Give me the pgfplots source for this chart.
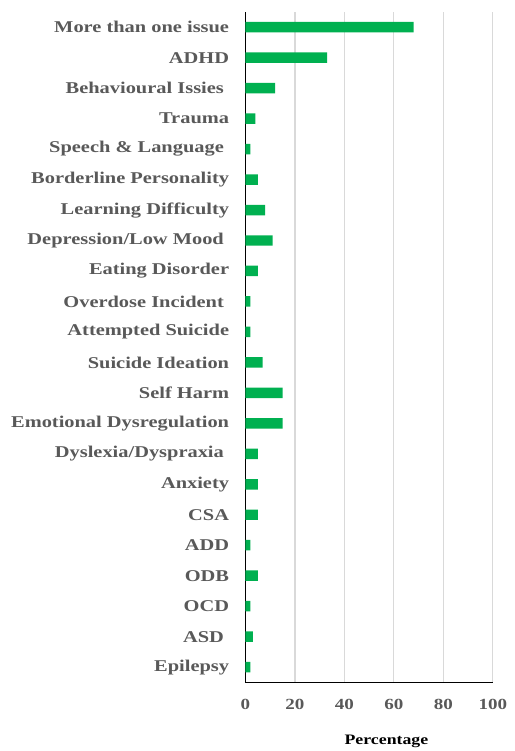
\documentclass[border=0pt]{standalone}
\usepackage{pgfplots}
\pgfplotsset{compat=1.18}
\usepackage{fontspec}
\setmainfont{Liberation Serif}
\definecolor{bargreen}{HTML}{00B050}
\definecolor{labgray}{HTML}{595959}
\definecolor{gridgray}{HTML}{D9D9D9}
\newcommand{\tsp}{\kern4.2pt}
\begin{document}
\begin{tikzpicture}
\begin{axis}[
 at={(0,0)}, anchor=south west,
 width=248pt, height=672pt, scale only axis,
 xbar, bar width=10.5pt,
 xmin=0, xmax=100, ymin=-0.5, ymax=21.5,
 xtick={0,20,40,60,80,100},
 xticklabels={0,20,40,60,80,100},
 ytick={0,...,21},
 yticklabels={Epilepsy, ASD\tsp, OCD, ODB, ADD, CSA, Anxiety, Dyslexia/Dyspraxia\tsp, Emotional Dysregulation, Self Harm, Suicide Ideation, Attempted Suicide, Overdose Incident\tsp, Eating Disorder, Depression/Low Mood\tsp, Learning Difficulty, Borderline Personality, Speech \& Language\tsp, Trauma, Behavioural Issies\tsp, ADHD, More than one issue},
 axis x line*=bottom, axis y line*=left,
 x axis line style={-, black, line width=1.3pt},
 y axis line style={-, black, line width=1.8pt},
 major tick length=0pt,
 xmajorgrids, ymajorgrids=false,
 grid style={gridgray, line width=1.3pt},
 yticklabel style={font=\bfseries\fontsize{16.5}{18}\selectfont, text=labgray, xshift=-12pt, xscale=1.24},
 xticklabel style={font=\bfseries\fontsize{15.5}{18}\selectfont, text=labgray, xscale=1.23, yshift=-13pt},
 xlabel={Percentage},
 xlabel style={font=\bfseries\fontsize{14.5}{16}\selectfont, text=black, xscale=1.23, at={(axis description cs:0.57,-0.088)}, anchor=center},
]
\addplot[fill=bargreen, draw=none] coordinates {
(2,0) (3,1) (2,2) (5,3) (2,4) (5,5) (5,6) (5,7) (15,8) (15,9) (7,10) (2,11) (2,12) (5,13) (11,14) (8,15) (5,16) (2,17) (4,18) (12,19) (33,20) (68,21)};
\end{axis}
\path (-246pt,-67pt) rectangle (270pt,684pt);
\end{tikzpicture}
\end{document}
